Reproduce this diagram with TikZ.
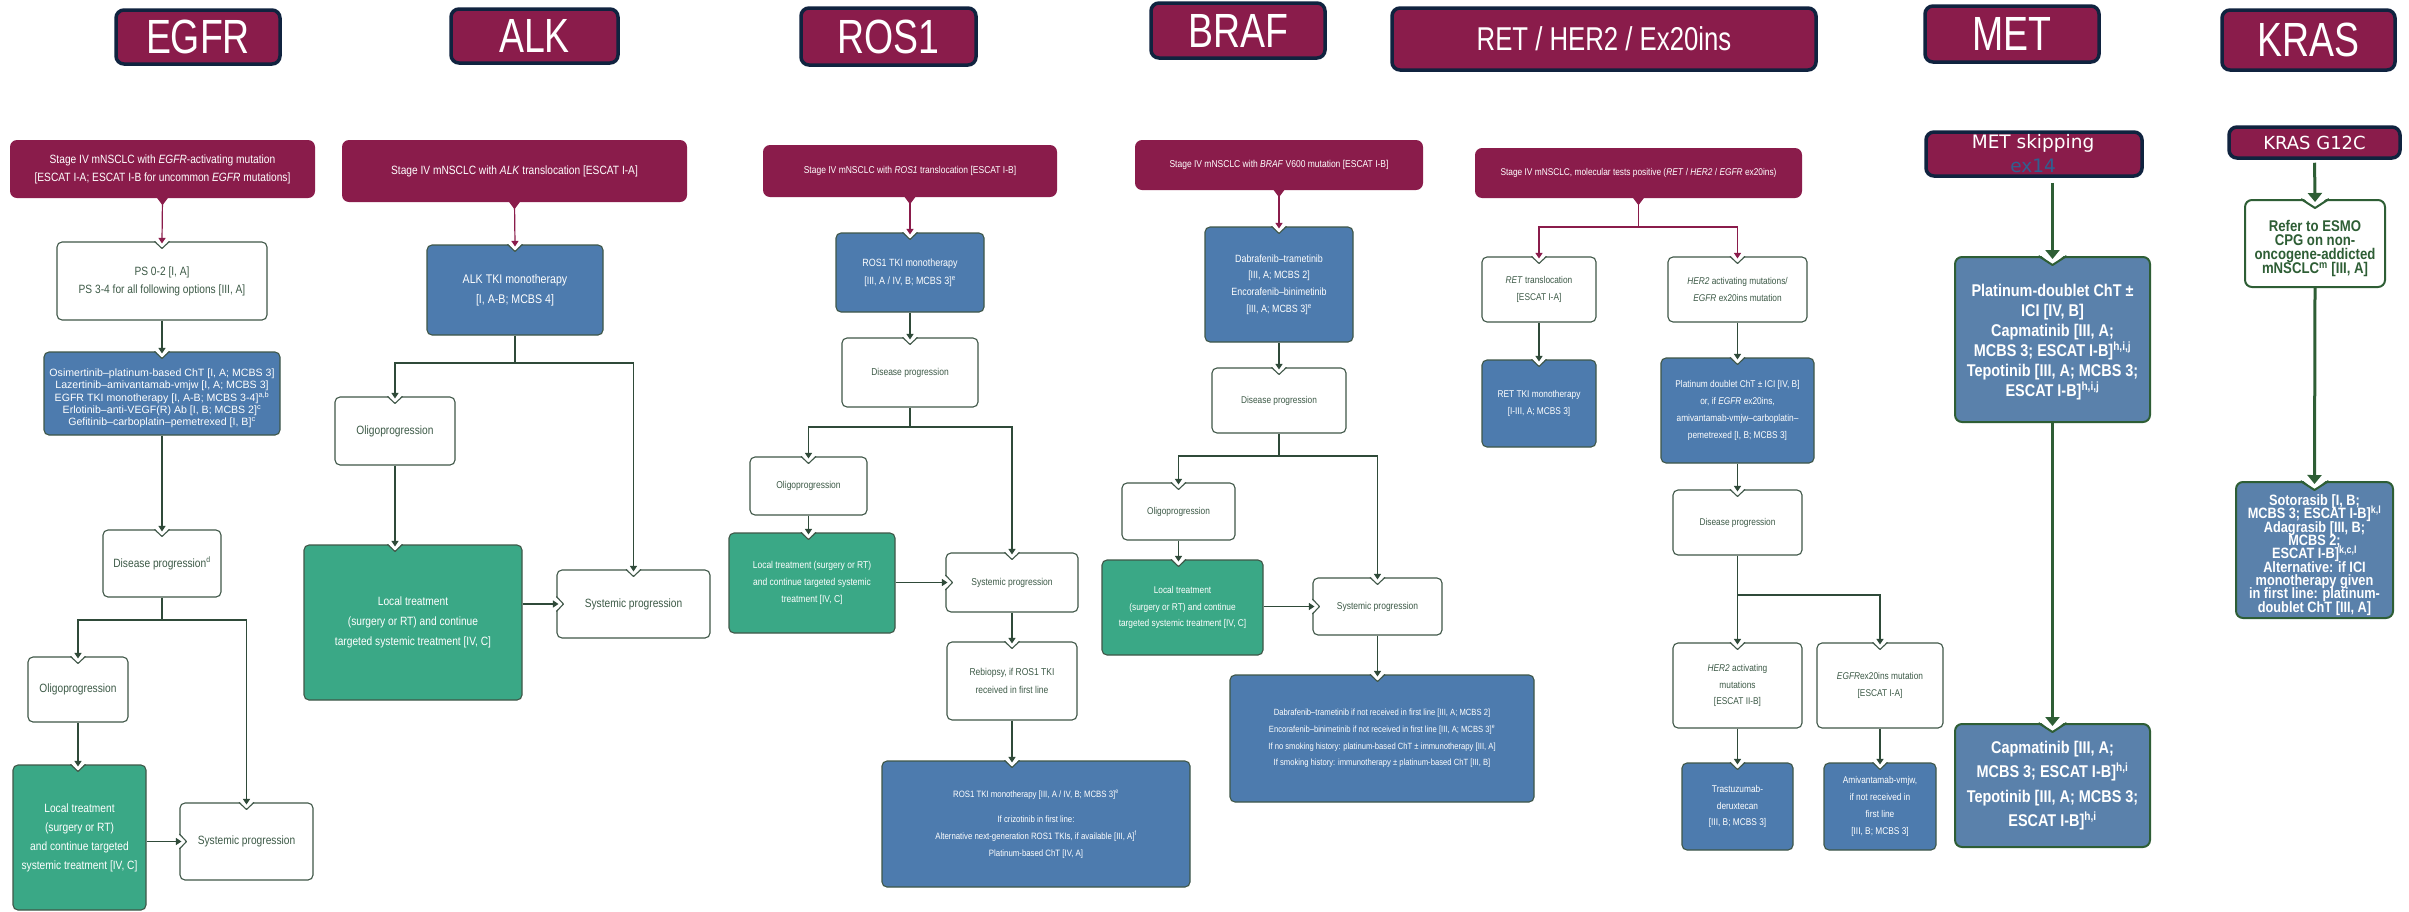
\documentclass[tikz,border=0pt]{standalone}
\usepackage{fontspec}
\usetikzlibrary{arrows.meta,calc}
\newfontfamily\cond{Liberation Sans}[FakeStretch=0.85]
\newfontfamily\nrm{Liberation Sans}
\newfontfamily\tfont{Liberation Sans}[FakeStretch=0.78]
\newfontfamily\dvs{DejaVu Sans}
\newcommand\fs[2]{\fontsize{#1}{#2}\selectfont\lineskiplimit=-20pt\relax}
\definecolor{mar}{HTML}{8A1C4B}
\definecolor{navy}{HTML}{10233F}
\definecolor{blu}{HTML}{4D7BAE}
\definecolor{mblu}{HTML}{5A81AB}
\definecolor{grn}{HTML}{3AA886}
\definecolor{bord}{HTML}{3F5748}
\definecolor{txtg}{HTML}{3D5A47}
\definecolor{arrc}{HTML}{2F4A39}
\definecolor{mgr}{HTML}{2E5E35}
\definecolor{exb}{HTML}{2F6090}
\newcommand\bx[8]{%
  \pgfmathsetmacro\bxw{#5-#4}\pgfmathsetmacro\bxh{#7-#6}%
  \pgfmathsetmacro\bxcx{(#4+#5)/2}\pgfmathsetmacro\bxcy{(#6+#7)/2}%
  \node[#2, minimum width=\bxw pt, minimum height=\bxh pt, font={#3}] (#1) at (\bxcx,\bxcy) {#8};}
% box with text shifted down by #8
\newcommand\bxo[9]{%
  \pgfmathsetmacro\bxw{#5-#4}\pgfmathsetmacro\bxh{#7-#6}%
  \pgfmathsetmacro\bxcx{(#4+#5)/2}\pgfmathsetmacro\bxcy{(#6+#7)/2}%
  \pgfmathsetmacro\bxty{(#6+#7)/2+#8}%
  \node[#2, minimum width=\bxw pt, minimum height=\bxh pt] (#1) at (\bxcx,\bxcy) {};
  \node[#2, draw=none, fill=none, font={#3}, inner sep=0pt] (#1t) at (\bxcx,\bxty) {#9};}
\newcommand\notchT[2]{%
  \fill[white] ($(#1)+(-7.5,-1.6)$) -- ($(#1)+(0,7)$) -- ($(#1)+(7.5,-1.6)$) -- cycle;
  \draw[#2,line width=1.1pt,line join=round] ($(#1)+(-7.5,0)$) -- ($(#1)+(0,7)$) -- ($(#1)+(7.5,0)$);}
\newcommand\notchL[2]{%
  \fill[white] ($(#1)+(-1.6,-7.5)$) -- ($(#1)+(7,0)$) -- ($(#1)+(-1.6,7.5)$) -- cycle;
  \draw[#2,line width=1.1pt,line join=round] ($(#1)+(0,-7.5)$) -- ($(#1)+(7,0)$) -- ($(#1)+(0,7.5)$);}
\newcommand\notchG[1]{%
  \fill[white] ($(#1)+(-14,-2.5)$) -- ($(#1)+(0,9)$) -- ($(#1)+(14,-2.5)$) -- cycle;
  \draw[mgr,line width=2pt,line join=round] ($(#1)+(-14,0)$) -- ($(#1)+(0,9)$) -- ($(#1)+(14,0)$);}
\newcommand\htab[1]{\fill[mar] ($(#1)+(-6,-1)$) -- ($(#1)+(0,7)$) -- ($(#1)+(6,-1)$) -- cycle;}
\begin{document}
\begin{tikzpicture}[x=1pt,y=-1pt,
  bxs/.style={rounded corners=5pt, draw=bord, line width=1.1pt, align=center, inner sep=1pt, text=txtg},
  wbox/.style={bxs, fill=white},
  bbox/.style={bxs, fill=blu, text=white},
  gbox/.style={bxs, fill=grn, text=white},
  mbox/.style={rounded corners=7pt, fill=mar, text=white, align=center, inner sep=1pt},
  ttl/.style={rounded corners=8pt, fill=mar, draw=navy, line width=3.5pt, text=white, inner sep=0pt},
  mgb/.style={rounded corners=7pt, draw=mgr, line width=2pt, fill=mblu, text=white, align=center, inner sep=1pt},
  mgw/.style={rounded corners=7pt, draw=mgr, line width=2pt, fill=white, text=mgr, align=center, inner sep=1pt},
  arr/.style={draw=arrc, line width=1.2pt, -{Triangle[width=7pt,length=5.5pt]}, shorten >=-2pt},
  marr/.style={arr, draw=mar},
  ln/.style={draw=arrc, line width=1.2pt},
  garr/.style={draw=mgr, line width=3pt, -{Triangle[width=14pt,length=9pt]}, shorten >=-3pt}]
\useasboundingbox (0,0) rectangle (2409,911);
\fill[white] (0,0) rectangle (2409,911);

% ---------- titles
\bx{tEGFR}{ttl}{\tfont\fs{48}{48}}{116}{280}{10}{64}{EGFR}
\bx{tALK}{ttl}{\tfont\fs{48}{48}}{451}{618}{9}{63}{ALK}
\bx{tROS}{ttl}{\tfont\fs{48}{48}}{801}{976}{8}{65}{ROS1}
\bx{tBRAF}{ttl}{\tfont\fs{48}{48}}{1151}{1325}{3}{58}{BRAF}
\bx{tRET}{ttl}{\tfont\fs{33}{33}}{1392}{1816}{8}{70}{RET / HER2 / Ex20ins}
\bx{tMET}{ttl}{\tfont\fs{48}{48}}{1925}{2099}{6}{62}{MET}
\bx{tKRAS}{ttl}{\tfont\fs{48}{48}}{2222}{2395}{10}{70}{KRAS}

% ---------- EGFR
\bx{eh}{mbox}{\cond\fs{12}{18}}{10}{315}{140}{198}{Stage IV mNSCLC with \textit{EGFR}-activating mutation\\{}[ESCAT I-A; ESCAT I-B for uncommon \textit{EGFR} mutations]}
\bx{ps}{wbox}{\cond\fs{12}{18}}{57}{267}{242}{320}{PS 0-2 [I, A]\\PS 3-4 for all following options [III, A]}
\bxo{eb}{bbox}{\nrm\fs{10.6}{12.3}}{44}{280}{352}{435}{5}{Osimertinib–platinum-based ChT [I, A; MCBS 3]\\Lazertinib–amivantamab-vmjw [I, A; MCBS 3]\\EGFR TKI monotherapy [I, A-B; MCBS 3-4]\textsuperscript{a,b}\\Erlotinib–anti-VEGF(R) Ab [I, B; MCBS 2]\textsuperscript{c}\\Gefitinib–carboplatin–pemetrexed [I, B]\textsuperscript{c}}
\bx{edp}{wbox}{\cond\fs{12}{18}}{103}{221}{530}{597}{Disease progression\textsuperscript{d}}
\bx{eo}{wbox}{\cond\fs{12}{18}}{28}{128}{657}{722}{Oligoprogression}
\bx{el}{gbox}{\cond\fs{12}{19}}{13}{146}{765}{910}{Local treatment\\(surgery or RT)\\and continue targeted\\systemic treatment [IV, C]}
\bx{es}{wbox}{\cond\fs{12}{18}}{180}{313}{803}{880}{Systemic progression}

% ---------- ALK
\bx{ah}{mbox}{\cond\fs{12}{18}}{342}{687}{140}{202}{Stage IV mNSCLC with \textit{ALK} translocation [ESCAT I-A]}
\bx{ab}{bbox}{\cond\fs{12.5}{20}}{427}{603}{245}{335}{ALK TKI monotherapy\\{}[I, A-B; MCBS 4]}
\bx{ao}{wbox}{\cond\fs{12}{18}}{335}{455}{397}{465}{Oligoprogression}
\bx{al}{gbox}{\cond\fs{12}{20}}{304}{522}{545}{700}{Local treatment\\(surgery or RT) and continue\\targeted systemic treatment [IV, C]}
\bx{as}{wbox}{\cond\fs{12}{18}}{557}{710}{570}{638}{Systemic progression}

% ---------- ROS1
\bx{rh}{mbox}{\cond\fs{10}{16}}{763}{1057}{145}{197}{Stage IV mNSCLC with \textit{ROS1} translocation [ESCAT I-B]}
\bx{rb}{bbox}{\cond\fs{10.5}{18}}{836}{984}{233}{312}{ROS1 TKI monotherapy\\{}[III, A / IV, B; MCBS 3]\textsuperscript{e}}
\bx{rdp}{wbox}{\cond\fs{10}{16}}{842}{978}{338}{407}{Disease progression}
\bx{ro}{wbox}{\cond\fs{10}{16}}{750}{867}{457}{515}{Oligoprogression}
\bx{rl}{gbox}{\cond\fs{10}{17}}{729}{895}{533}{633}{Local treatment (surgery or RT)\\and continue targeted systemic\\treatment [IV, C]}
\bx{rs}{wbox}{\cond\fs{10}{16}}{946}{1078}{553}{612}{Systemic progression}
\bx{rr}{wbox}{\cond\fs{10}{18}}{947}{1077}{642}{720}{Rebiopsy, if ROS1 TKI\\received in first line}
\bx{rb2}{bbox}{\cond\fs{9.2}{17}}{882}{1190}{761}{887}{ROS1 TKI monotherapy [III, A / IV, B; MCBS 3]\textsuperscript{e}\\[8pt]If crizotinib in first line:\\Alternative next-generation ROS1 TKIs, if available [III, A]\textsuperscript{f}\\Platinum-based ChT [IV, A]}

% ---------- BRAF
\bx{bh}{mbox}{\cond\fs{10}{16}}{1135}{1423}{140}{190}{Stage IV mNSCLC with \textit{BRAF} V600 mutation [ESCAT I-B]}
\bx{bb}{bbox}{\cond\fs{10.5}{16.7}}{1205}{1353}{227}{342}{Dabrafenib–trametinib\\{}[III, A; MCBS 2]\\Encorafenib–binimetinib\\{}[III, A; MCBS 3]\textsuperscript{e}}
\bx{bdp}{wbox}{\cond\fs{9.8}{16}}{1212}{1346}{368}{433}{Disease progression}
\bx{bo}{wbox}{\cond\fs{9.8}{16}}{1122}{1235}{483}{540}{Oligoprogression}
\bx{bl}{gbox}{\cond\fs{9.8}{16.7}}{1102}{1263}{560}{655}{Local treatment\\(surgery or RT) and continue\\targeted systemic treatment [IV, C]}
\bx{bs}{wbox}{\cond\fs{10}{16}}{1313}{1442}{578}{635}{Systemic progression}
\bx{bb2}{bbox}{\cond\fs{9}{16.7}}{1230}{1534}{675}{802}{Dabrafenib–trametinib if not received in first line [III, A; MCBS 2]\\Encorafenib–binimetinib if not received in first line [III, A; MCBS 3]\textsuperscript{e}\\If no smoking history: platinum-based ChT ± immunotherapy [III, A]\\If smoking history: immunotherapy ± platinum-based ChT [III, B]}

% ---------- RET / HER2 / ex20ins
\bx{th}{mbox}{\cond\fs{9.8}{16}}{1475}{1802}{148}{198}{Stage IV mNSCLC, molecular tests positive (\textit{RET} / \textit{HER2} / \textit{EGFR} ex20ins)}
\bx{tr}{wbox}{\cond\fs{9.8}{16.7}}{1482}{1596}{257}{322}{\textit{RET} translocation\\{}[ESCAT I-A]}
\bx{thr}{wbox}{\cond\fs{9.8}{16.7}}{1668}{1807}{257}{322}{\textit{HER2} activating mutations/\\\textit{EGFR} ex20ins mutation}
\bx{tb1}{bbox}{\cond\fs{9.8}{16.7}}{1482}{1596}{360}{447}{RET TKI monotherapy\\{}[I-III, A; MCBS 3]}
\bx{tb2}{bbox}{\cond\fs{9.8}{16.7}}{1661}{1814}{358}{463}{Platinum doublet ChT ± ICI [IV, B]\\or, if \textit{EGFR} ex20ins,\\amivantamab-vmjw–carboplatin–\\pemetrexed [I, B; MCBS 3]}
\bx{tdp}{wbox}{\cond\fs{9.8}{16}}{1673}{1802}{490}{555}{Disease progression}
\bx{th2}{wbox}{\cond\fs{9.8}{16.7}}{1673}{1802}{643}{728}{\textit{HER2} activating\\mutations\\{}[ESCAT II-B]}
\bx{te}{wbox}{\cond\fs{9.8}{16.7}}{1817}{1943}{643}{728}{\textit{EGFR}ex20ins mutation\\{}[ESCAT I-A]}
\bx{tbt}{bbox}{\cond\fs{9.8}{16.7}}{1682}{1793}{763}{850}{Trastuzumab-\\deruxtecan\\{}[III, B; MCBS 3]}
\bx{tba}{bbox}{\cond\fs{9.8}{16.7}}{1824}{1936}{763}{850}{Amivantamab-vmjw,\\if not received in\\first line\\{}[III, B; MCBS 3]}

% ---------- MET
\bx{mh}{ttl}{\dvs\fs{18.5}{18.5}}{1926}{2142}{132}{176}{}
\node[font=\dvs\fs{18.5}{18.5}, text=white, inner sep=0pt] (mtx) at (2033,143) {MET skipping};
\node[font=\dvs\fs{18.5}{18.5}, text=exb, inner sep=0pt] (mex) at (2033,166) {ex14};
\bxo{mb}{mgb}{\cond\bfseries\fs{17}{20}}{1955}{2150}{257}{422}{3}{Platinum-doublet ChT ±\\ICI [IV, B]\\Capmatinib [III, A;\\MCBS 3; ESCAT I-B]\textsuperscript{h,i,j}\\Tepotinib [III, A; MCBS 3;\\ESCAT I-B]\textsuperscript{h,i,j}}
\bx{mb2}{mgb}{\cond\bfseries\fs{17}{24.6}}{1955}{2150}{724}{847}{Capmatinib [III, A;\\MCBS 3; ESCAT I-B]\textsuperscript{h,i}\\Tepotinib [III, A; MCBS 3;\\ESCAT I-B]\textsuperscript{h,i}}

% ---------- KRAS
\bx{kh}{ttl}{\dvs\fs{18}{18}}{2229}{2400}{127}{158}{KRAS G12C}
\bxo{kr}{mgw}{\cond\bfseries\fs{15.5}{14}}{2245}{2385}{200}{287}{5}{Refer to ESMO\\CPG on non-\\oncogene-addicted\\mNSCLC\textsuperscript{m} [III, A]}
\bxo{kb}{mgb}{\cond\bfseries\fs{15}{13.3}}{2236}{2393}{482}{618}{5}{Sotorasib [I, B;\\MCBS 3; ESCAT I-B]\textsuperscript{k,l}\\Adagrasib [III, B;\\MCBS 2;\\ESCAT I-B]\textsuperscript{k,c,l}\\Alternative: if ICI\\monotherapy given\\in first line: platinum-\\doublet ChT [III, A]}

% ================= connectors
% EGFR
\htab{eh.south}
\notchT{ps.north}{bord}
\draw[marr] (eh.south) -- (ps.north);
\notchT{eb.north}{bord}
\draw[arr] (ps.south) -- (eb.north);
\notchT{edp.north}{bord}
\draw[arr] (eb.south) -- (edp.north);
\coordinate (ebr) at (162,620);
\notchT{eo.north}{bord}
\notchT{es.north}{bord}
\draw[ln] (edp.south) -- (ebr);
\draw[arr] (ebr) -| (eo.north);
\draw[arr] (ebr) -| (es.north);
\coordinate (elN) at (el.north -| eo.south);
\notchT{elN}{bord}
\draw[arr] (eo.south) -- (elN);
\notchL{es.west}{bord}
\draw[arr] (el.east |- es.west) -- (es.west);

% ALK
\htab{ah.south}
\notchT{ab.north}{bord}
\draw[marr] (ah.south) -- (ab.north);
\coordinate (abr) at (515,363);
\draw[ln] (ab.south) -- (abr);
\notchT{ao.north}{bord}
\notchT{as.north}{bord}
\draw[arr] (abr) -| (ao.north);
\draw[arr] (abr) -| (as.north);
\coordinate (alN) at (al.north -| ao.south);
\notchT{alN}{bord}
\draw[arr] (ao.south) -- (alN);
\notchL{as.west}{bord}
\draw[arr] (al.east |- as.west) -- (as.west);

% ROS1
\htab{rh.south}
\notchT{rb.north}{bord}
\draw[marr] (rh.south) -- (rb.north);
\notchT{rdp.north}{bord}
\draw[arr] (rb.south) -- (rdp.north);
\coordinate (rbr) at (910,427);
\draw[ln] (rdp.south) -- (rbr);
\notchT{ro.north}{bord}
\notchT{rs.north}{bord}
\draw[arr] (rbr) -| (ro.north);
\draw[arr] (rbr) -| (rs.north);
\coordinate (rlN) at (rl.north -| ro.south);
\notchT{rlN}{bord}
\draw[arr] (ro.south) -- (rlN);
\notchL{rs.west}{bord}
\draw[arr] (rl.east |- rs.west) -- (rs.west);
\notchT{rr.north}{bord}
\draw[arr] (rs.south) -- (rr.north);
\coordinate (rb2N) at (rb2.north -| rr.south);
\notchT{rb2N}{bord}
\draw[arr] (rr.south) -- (rb2N);

% BRAF
\htab{bh.south}
\notchT{bb.north}{bord}
\draw[marr] (bh.south) -- (bb.north);
\notchT{bdp.north}{bord}
\draw[arr] (bb.south) -- (bdp.north);
\coordinate (bbr) at (1279,456);
\draw[ln] (bdp.south) -- (bbr);
\notchT{bo.north}{bord}
\notchT{bs.north}{bord}
\draw[arr] (bbr) -| (bo.north);
\draw[arr] (bbr) -| (bs.north);
\coordinate (blN) at (bl.north -| bo.south);
\notchT{blN}{bord}
\draw[arr] (bo.south) -- (blN);
\notchL{bs.west}{bord}
\draw[arr] (bl.east |- bs.west) -- (bs.west);
\coordinate (bb2N) at (bb2.north -| bs.south);
\notchT{bb2N}{bord}
\draw[arr] (bs.south) -- (bb2N);

% RET
\htab{th.south}
\coordinate (tbr) at (1638.5,227);
\draw[draw=mar, line width=1.2pt] (th.south) -- (tbr);
\notchT{tr.north}{bord}
\notchT{thr.north}{bord}
\draw[marr] (tbr) -| (tr.north);
\draw[marr] (tbr) -| (thr.north);
\notchT{tb1.north}{bord}
\draw[arr] (tr.south) -- (tb1.north);
\notchT{tb2.north}{bord}
\draw[arr] (thr.south) -- (tb2.north);
\notchT{tdp.north}{bord}
\draw[arr] (tb2.south) -- (tdp.north);
\coordinate (tbr2) at (1737.5,595);
\notchT{th2.north}{bord}
\notchT{te.north}{bord}
\draw[arr] (tdp.south) -- (th2.north);
\draw[arr] (tbr2) -| (te.north);
\notchT{tbt.north}{bord}
\draw[arr] (th2.south) -- (tbt.north);
\notchT{tba.north}{bord}
\draw[arr] (te.south) -- (tba.north);

% MET
\coordinate (mS) at (mh.south -| mb.north);
\notchG{mb.north}
\draw[garr, shorten <=5pt] (mS) -- (mb.north);
\notchG{mb2.north}
\draw[garr] (mb.south) -- (mb2.north);

% KRAS
\notchG{kr.north}
\draw[garr, shorten <=3pt] (kh.south) -- (kr.north);
\notchG{kb.north}
\draw[garr] (kr.south) -- (kb.north);
\end{tikzpicture}
\end{document}
